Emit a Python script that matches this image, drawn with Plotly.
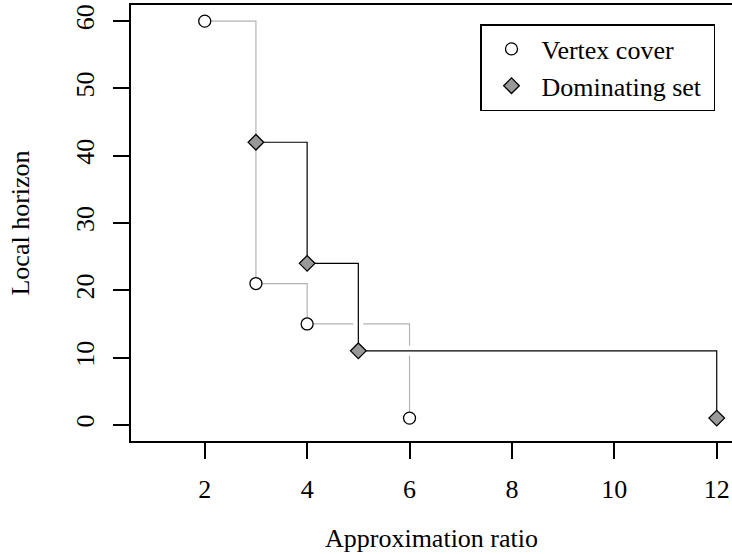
import plotly.graph_objects as go

# Data
vc_x = [2, 3, 4, 6]
vc_y = [60, 21, 15, 1]
ds_x = [3, 4, 5, 12]
ds_y = [42, 24, 11, 1]
x_ticks = [2, 4, 6, 8, 10, 12]
y_ticks = [0, 10, 20, 30, 40, 50, 60]

FONT = "Liberation Serif"
FS = 26

fig = go.Figure()
# Vertex cover step line (gray)
fig.add_trace(go.Scatter(x=vc_x, y=vc_y, mode="lines", line_shape="hv",
                         line=dict(color="#b3b3b3", width=1.2), showlegend=False, hoverinfo="skip"))
# white halo for dominating set line
fig.add_trace(go.Scatter(x=ds_x, y=ds_y, mode="lines", line_shape="hv",
                         line=dict(color="white", width=10), showlegend=False, hoverinfo="skip"))
fig.add_trace(go.Scatter(x=ds_x, y=ds_y, mode="lines", line_shape="hv",
                         line=dict(color="black", width=1.2), showlegend=False, hoverinfo="skip"))
# markers
fig.add_trace(go.Scatter(x=vc_x, y=vc_y, mode="markers", name="Vertex cover",
                         marker=dict(symbol="circle", size=12, color="white",
                                     line=dict(color="black", width=1.3))))
fig.add_trace(go.Scatter(x=ds_x, y=ds_y, mode="markers", name="Dominating set\u00a0",
                         marker=dict(symbol="diamond", size=12, color="#999999",
                                     line=dict(color="black", width=1.3))))

W, H = 732, 554
L, R, T, B = 131, 0, 5, 113
PH = H - T - B

fig.update_layout(
    width=W, height=H,
    margin=dict(l=L, r=R, t=T, b=B, autoexpand=False),
    plot_bgcolor="white", paper_bgcolor="white",
    font=dict(family=FONT, size=FS, color="black"),
    showlegend=True,
    legend=dict(x=(480 - L) / (W - L - R), y=(H - B - 24) / PH,
                xanchor="left", yanchor="top",
                bordercolor="black", borderwidth=1.5, bgcolor="white",
                font=dict(family=FONT, size=FS), tracegroupgap=0,
                itemsizing="trace", itemwidth=50),
    xaxis=dict(range=[0.56, 0.56 + (W - L - R) / 51.2], tickvals=x_ticks,
               ticks="outside", ticklen=16, tickwidth=1.5, tickcolor="black",
               showline=True, linecolor="black", linewidth=1.5, mirror=True,
               showgrid=False, zeroline=False, automargin=False,
               ticklabelstandoff=8,
               title=dict(text="Approximation ratio", standoff=26,
                          font=dict(family=FONT, size=FS))),
    yaxis=dict(range=[-2.4, 62.4], tickvals=y_ticks, tickangle=-90,
               ticks="outside", ticklen=16, tickwidth=1.5, tickcolor="black",
               showline=True, linecolor="black", linewidth=1.5, mirror=False,
               showgrid=False, zeroline=False, automargin=False,
               ticklabelstandoff=9,
               title=dict(text="Local horizon", standoff=34,
                          font=dict(family=FONT, size=FS))),
)

fig.write_html("out.html", config={"displayModeBar": False},
               post_script="document.body.style.margin='0px';document.body.style.padding='0px';")
